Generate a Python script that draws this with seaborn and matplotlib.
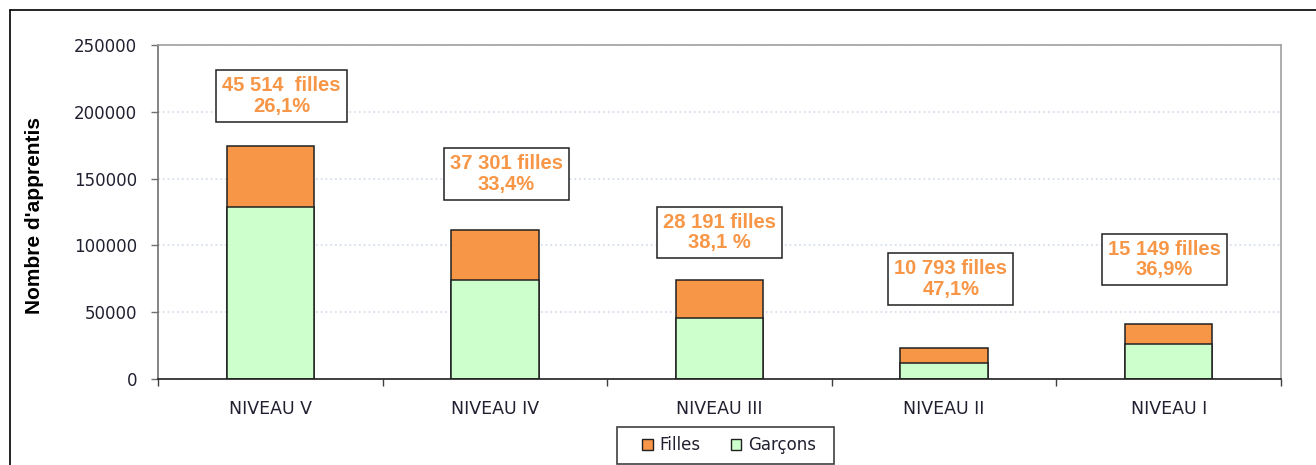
import matplotlib
matplotlib.use('Agg')
import matplotlib.pyplot as plt
import seaborn as sns
import pandas as pd
from matplotlib.patches import Patch, Rectangle
from matplotlib.lines import Line2D
from matplotlib.ticker import StrMethodFormatter, FixedLocator

# Data
niveaux = ['NIVEAU V', 'NIVEAU IV', 'NIVEAU III', 'NIVEAU II', 'NIVEAU I']
filles = [45514, 37301, 28191, 10793, 15149]
garcons = [128900, 74400, 45800, 12100, 25900]
etiquettes = ['45 514  filles\n26,1%', '37 301 filles\n33,4%', '28 191 filles\n38,1 %',
              '10 793 filles\n47,1%', '15 149 filles\n36,9%']

# where the text boxes sit (data coords)
label_x = [0.05, 1.05, 2.0, 3.03, 3.98]
label_y = [211800, 153400, 109700, 74900, 89400]

ORANGE = '#F79646'
VERT = '#CCFFCC'
TXT = '#202030'

df = pd.DataFrame({'niveau': niveaux, 'filles': filles, 'garcons': garcons})
df['total'] = df['filles'] + df['garcons']

sns.set_style('white')
plt.rcParams['font.family'] = ['DejaVu Sans']

W, H = 1316, 465
fig = plt.figure(figsize=(W / 100, H / 100), dpi=100)
ax = fig.add_axes([158 / W, 86 / H, 1123 / W, 334 / H])

# stacked bars: totals (orange) then garcons (green) over them
sns.barplot(data=df, x='niveau', y='total', color=ORANGE, saturation=1, width=0.39,
            edgecolor='#202020', linewidth=1.1, ax=ax)
sns.barplot(data=df, x='niveau', y='garcons', color=VERT, saturation=1, width=0.39,
            edgecolor='#202020', linewidth=1.1, ax=ax)

ax.set_xlim(-0.5, 4.5)
ax.set_ylim(0, 250000)
ax.set_yticks(range(0, 250001, 50000))
ax.yaxis.set_major_formatter(StrMethodFormatter('{x:.0f}'))
ax.set_xlabel('')
ax.set_ylabel('')

ax.set_axisbelow(True)
ax.yaxis.grid(True, color='#d6e0ee', linestyle=':', linewidth=1.3)

for side in ['top', 'right']:
    ax.spines[side].set_color('#a0a0a0')
    ax.spines[side].set_linewidth(1.2)
ax.spines['left'].set_color('#707070')
ax.spines['left'].set_linewidth(1.2)
ax.spines['bottom'].set_color('#202020')
ax.spines['bottom'].set_linewidth(1.2)

ax.tick_params(axis='y', direction='out', length=5, width=1, color='#707070',
               labelsize=12, labelcolor=TXT, pad=10, left=True)
ax.tick_params(axis='x', which='major', length=0, labelsize=12.5, labelcolor=TXT, pad=15)
ax.xaxis.set_minor_locator(FixedLocator([-0.5, 0.5, 1.5, 2.5, 3.5, 4.5]))
ax.tick_params(axis='x', which='minor', direction='out', length=5, width=1,
               color='#404040', bottom=True)

for x, y, t in zip(label_x, label_y, etiquettes):
    ax.text(x, y, t, ha='center', va='center', multialignment='center',
            fontsize=14.5, fontweight='bold', color=ORANGE, family='Liberation Sans',
            linespacing=1.1,
            bbox=dict(boxstyle='square,pad=0.3', fc='white', ec='#202020', lw=1.1))

fig.text(35 / W, 1 - 215 / H, "Nombre d'apprentis", rotation=90, ha='center', va='center',
         fontsize=15, fontweight='bold', family='Liberation Sans', color='black')

# legend: Excel-style box with wide left padding
handles = [Patch(facecolor=ORANGE, edgecolor='#202020', lw=1),
           Patch(facecolor=VERT, edgecolor='#202020', lw=1)]
leg = fig.legend(handles, ['Filles', 'Garçons'], loc='center', ncol=2,
                 bbox_to_anchor=(729 / W, 1 - 445 / H), fontsize=12,
                 frameon=False, handlelength=0.65, handleheight=0.65, handletextpad=0.4,
                 columnspacing=1.8)
for t in leg.get_texts():
    t.set_color(TXT)
fig.add_artist(Rectangle((617 / W, 1 - 464 / H), 217 / W, 37 / H, transform=fig.transFigure,
                         fill=False, edgecolor='#404040', lw=1.2, zorder=0))

# outer chart frame (cropped on right and bottom)
fig.add_artist(Line2D([10 / W, 1], [1 - 10 / H, 1 - 10 / H], transform=fig.transFigure,
                      color='black', lw=1.2))
fig.add_artist(Line2D([10 / W, 10 / W], [0, 1 - 10 / H], transform=fig.transFigure,
                      color='black', lw=1.2))

fig.savefig('out.png', dpi=100)
